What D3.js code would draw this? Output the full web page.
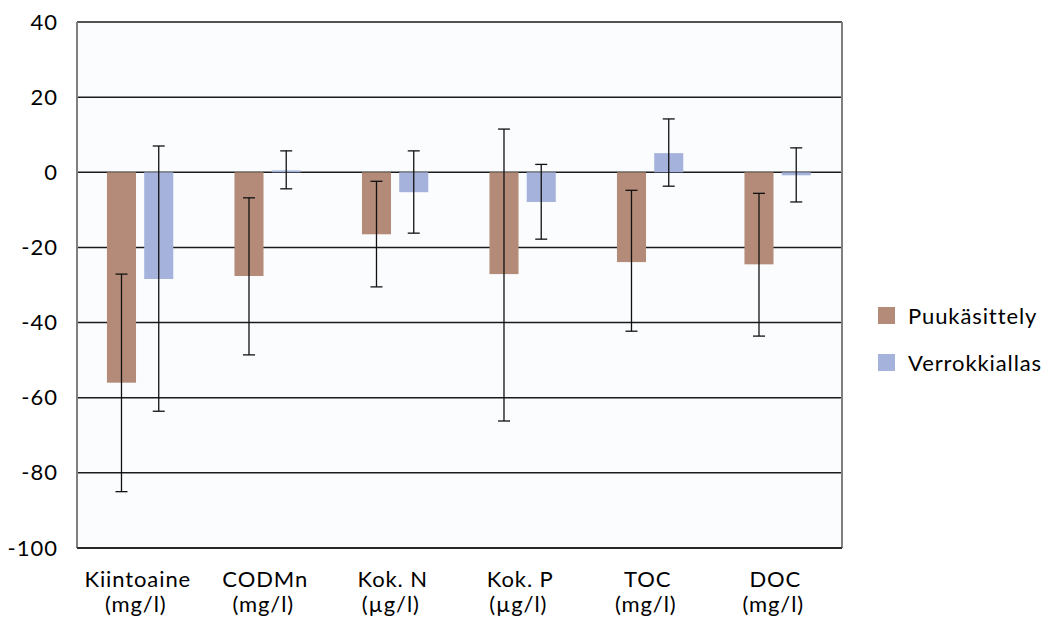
<!DOCTYPE html>
<html>
<head>
<meta charset="utf-8">
<script src="https://cdn.jsdelivr.net/npm/d3@7"></script>
<style>
  body { margin: 0; background: #fff; }
  svg { display: block; font-family: 'Lato', 'Open Sans', sans-serif; }
</style>
</head>
<body>
<svg id="chart" width="1056" height="624"></svg>
<script>
const categories = ['Kiintoaine', 'CODMn', 'Kok. N', 'Kok. P', 'TOC', 'DOC'];
const units = ['(mg/l)', '(mg/l)', '(µg/l)', '(µg/l)', '(mg/l)', '(mg/l)'];
const seriesNames = ['Puukäsittely', 'Verrokkiallas'];
const puuValues = [-56, -27.6, -16.5, -27.1, -23.9, -24.5];
const puuLow = [-85, -48.6, -30.5, -66.2, -42.3, -43.6];
const puuHigh = [-27.1, -6.8, -2.4, 11.5, -4.8, -5.6];
const verValues = [-28.4, 0.5, -5.3, -7.9, 5.1, -0.8];
const verLow = [-63.6, -4.4, -16.2, -17.8, -3.7, -7.9];
const verHigh = [7, 5.7, 5.7, 2.1, 14.2, 6.5];
const yTicks = [-100, -80, -60, -40, -20, 0, 20, 40];
const colors = ['#b48b78', '#a4b2dc'];

const margin = {top: 22, left: 77, right: 214, bottom: 76};
const width = 1056 - margin.left - margin.right;
const height = 624 - margin.top - margin.bottom;

const svg = d3.select('#chart');
const g = svg.append('g')
    .attr('transform', 'translate(' + margin.left + ',' + margin.top + ')');

const x0 = d3.scaleBand().domain(categories).range([0, width]);
const x1 = d3.scaleBand().domain(seriesNames)
    .range([x0.bandwidth() * 0.235, x0.bandwidth() * 0.755])
    .paddingInner(0.22);
const y = d3.scaleLinear().domain([-100, 40]).range([height, 0]);

// plot background
g.append('rect')
    .attr('width', width)
    .attr('height', height)
    .attr('fill', '#fafcfe');

// gridlines
g.selectAll('.grid').data(yTicks)
  .enter().append('line')
    .attr('x1', 0)
    .attr('x2', width)
    .attr('y1', function(d) { return y(d); })
    .attr('y2', function(d) { return y(d); })
    .attr('stroke', '#1a1a1a')
    .attr('stroke-width', 1.5);

const series = [
  {name: seriesNames[0], values: puuValues, low: puuLow, high: puuHigh},
  {name: seriesNames[1], values: verValues, low: verLow, high: verHigh},
];

series.forEach(function(s, si) {
  const rows = categories.map(function(c, i) {
    return {cat: c, v: s.values[i], lo: s.low[i], hi: s.high[i]};
  });
  const sg = g.append('g');
  sg.selectAll('rect').data(rows)
    .enter().append('rect')
      .attr('x', function(d) { return x0(d.cat) + x1(s.name); })
      .attr('width', x1.bandwidth())
      .attr('y', function(d) { return y(Math.max(0, d.v)); })
      .attr('height', function(d) { return Math.abs(y(d.v) - y(0)); })
      .attr('fill', colors[si]);

  // error bars
  const eg = sg.selectAll('.err').data(rows)
    .enter().append('g')
      .attr('transform', function(d) {
        return 'translate(' + (x0(d.cat) + x1(s.name) + x1.bandwidth() / 2) + ',0)';
      })
      .attr('stroke', '#111')
      .attr('stroke-width', 1.3);
  eg.append('line')
      .attr('y1', function(d) { return y(d.lo); })
      .attr('y2', function(d) { return y(d.hi); });
  eg.append('line')
      .attr('x1', -6).attr('x2', 6)
      .attr('y1', function(d) { return y(d.lo); })
      .attr('y2', function(d) { return y(d.lo); });
  eg.append('line')
      .attr('x1', -6).attr('x2', 6)
      .attr('y1', function(d) { return y(d.hi); })
      .attr('y2', function(d) { return y(d.hi); });
});

// frame: gray sides, dark bottom
g.append('line').attr('x1', 0).attr('x2', 0).attr('y1', 0).attr('y2', height)
    .attr('stroke', '#808080').attr('stroke-width', 2);
g.append('line').attr('x1', width).attr('x2', width).attr('y1', 0).attr('y2', height)
    .attr('stroke', '#808080').attr('stroke-width', 2);
g.append('line').attr('x1', 0).attr('x2', width).attr('y1', height).attr('y2', height)
    .attr('stroke', '#1a1a1a').attr('stroke-width', 1.5);

// y tick labels
const yAxis = d3.axisLeft(y).tickValues(yTicks).tickSize(0).tickPadding(19)
    .tickFormat(function(d) { return String(d); });
const ya = g.append('g').call(yAxis);
ya.select('.domain').remove();
ya.selectAll('text')
    .attr('font-size', 22)
    .attr('font-family', 'Lato, sans-serif')
    .attr('letter-spacing', 1)
    .attr('fill', '#000');

// category labels
const xl = g.append('g').selectAll('text').data(categories)
  .enter().append('text')
    .attr('x', function(d) { return x0(d) + x0.bandwidth() / 2 - 3; })
    .attr('y', height + 39)
    .attr('text-anchor', 'middle')
    .attr('font-size', 22)
    .attr('letter-spacing', 0.9)
    .attr('fill', '#000');
xl.append('tspan').text(function(d) { return d; });
xl.append('tspan')
    .attr('x', function(d) { return x0(d) + x0.bandwidth() / 2 - 5; })
    .attr('dy', 25)
    .text(function(d, i) { return units[i]; });

// legend
const legend = svg.append('g')
    .attr('transform', 'translate(878,307)');
const li = legend.selectAll('g').data(seriesNames)
  .enter().append('g')
    .attr('transform', function(d, i) { return 'translate(0,' + (i * 47) + ')'; });
li.append('rect')
    .attr('width', 17)
    .attr('height', 17)
    .attr('fill', function(d, i) { return colors[i]; });
li.append('text')
    .attr('x', 30)
    .attr('y', 17)
    .attr('font-size', 22)
    .attr('letter-spacing', 0.9)
    .attr('fill', '#000')
    .text(function(d) { return d; });
</script>
</body>
</html>
